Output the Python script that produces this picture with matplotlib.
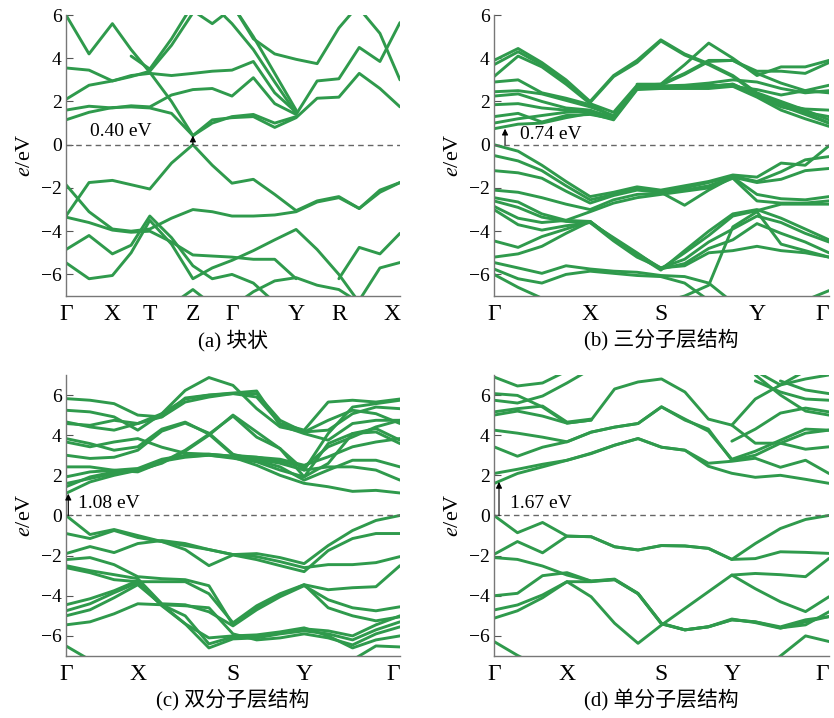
import numpy as np
import matplotlib.pyplot as plt
from matplotlib.transforms import ScaledTranslation

plt.rcParams['font.family'] = ['Liberation Serif', 'Noto Sans CJK SC']
plt.rcParams['mathtext.fontset'] = 'stix'

nan = np.nan
GREEN = '#2f9a4c'

# ---------------- (a) bulk ----------------
K_A = [0, .069, .139, .195, .251, .316, .380, .438, .497, .561, .625, .689, .752, .817, .878, .940, 1.0]
TICKS_A = [0, .138, .251, .380, .497, .689, .817, 1.0]
LABELS_A = ['Γ', 'X', 'T', 'Z', 'Γ', 'Y', 'R', 'X']
BANDS_A = [
    # conduction
    [1.15, 1.5, 1.72, 1.75, 1.7, 1.45, 0.42, 1.15, 1.25, 1.3, 0.8, 1.25, 2.15, 2.2, 3.3, 2.6, 1.75],
    [1.6, 1.78, 1.7, 1.8, 1.75, 2.3, 2.55, 2.6, 2.25, 3.1, 1.9, 1.4, 2.95, 3.05, 4.5, 3.85, 5.65],
    [2.1, 2.75, 2.95, 3.2, 3.3, 3.2, 3.3, 3.4, 3.45, 3.85, 2.4, 1.5, nan, nan, nan, nan, nan],
    [6.0, 4.2, 5.6, 4.4, 3.35, 2.0, 0.42, 1.0, 1.3, 1.4, 1.0, 1.3, nan, nan, nan, nan, nan],
    [3.55, 3.45, 2.95, 3.15, 3.4, 4.6, 6.1, nan, nan, nan, nan, nan, nan, nan, nan, nan, nan],
    [nan, nan, nan, 4.1, 3.5, 4.9, 6.5, nan, nan, nan, nan, nan, nan, nan, nan, nan, nan],
    [nan, nan, nan, nan, nan, nan, 6.2, 5.6, 6.3, nan, nan, nan, nan, nan, nan, nan, nan],
    [nan, nan, nan, nan, nan, nan, nan, nan, 6.5, 4.9, 4.2, 3.95, 3.75, 5.4, 6.5, nan, nan],
    [nan, nan, nan, nan, nan, nan, nan, 6.5, 5.6, 4.4, 2.9, 1.45, nan, nan, nan, nan, nan],
    [nan, nan, nan, nan, nan, nan, nan, nan, 6.5, 5.0, 3.3, 1.6, nan, nan, nan, nan, nan],
    [nan, nan, nan, nan, nan, nan, nan, nan, nan, nan, nan, nan, nan, nan, 6.3, 5.15, 3.0],
    # valence
    [-3.3, -1.75, -1.65, -1.85, -2.05, -0.85, 0.0, -0.95, -1.78, -1.6, -2.3, -3.05, -2.6, -2.4, -2.95, -2.1, -1.75],
    [-1.85, -3.1, -3.9, -4.0, -3.9, -3.4, -3.0, -3.1, -3.3, -3.3, -3.25, -3.1, -2.65, -2.45, -2.95, -2.2, -1.75],
    [-5.46, -6.2, -6.05, -5.0, -3.5, -4.6, -6.2, -5.7, -5.35, -4.9, -4.4, -3.92, -4.85, -6.0, -7.3, nan, nan],
    [-4.85, -4.2, -5.05, -4.65, -3.3, -4.3, -5.6, -6.2, -6.0, -6.4, -7.3, nan, nan, nan, nan, nan, nan],
    [-3.35, -3.6, -3.95, -4.05, -4.0, -4.5, -5.1, -5.15, -5.2, -5.3, -5.3, -6.2, nan, nan, nan, nan, nan],
    [nan, nan, nan, nan, nan, nan, nan, nan, -7.5, -6.8, -6.3, -6.15, -6.5, -6.7, -7.3, nan, nan],
    [nan, nan, nan, nan, nan, nan, nan, nan, nan, nan, nan, nan, nan, -6.2, -4.75, -5.05, -4.1],
    [nan, nan, nan, nan, nan, nan, nan, nan, nan, nan, nan, nan, nan, nan, -7.2, -5.7, -5.45],
    [nan, nan, nan, nan, nan, -7.4, -6.7, -7.4, nan, nan, nan, nan, nan, nan, nan, nan, nan],
]

# ---------------- (b) three layers ----------------
K_B = [0, .072, .143, .215, .287, .357, .427, .498, .569, .641, .713, .785, .857, .929, 1.0]
TICKS_B = [0, .287, .498, .785, 1.0]
LABELS_B = ['Γ', 'X', 'S', 'Y', 'Γ']
BANDS_B = [
    # conduction
    [3.9, 4.45, 3.8, 3.0, 2.0, 3.2, 3.9, 4.85, 4.2, 3.75, 3.2, 2.4, 2.0, 1.6, 1.15],
    [3.7, 4.3, 3.7, 2.9, 1.95, 3.15, 3.8, 4.8, 4.15, 3.7, 3.15, 2.35, 1.95, 1.5, 1.0],
    [3.15, 4.1, 3.6, 2.8, 1.9, 1.5, 2.75, 2.8, 3.7, 4.7, 4.0, 3.2, 3.6, 3.6, 3.9],
    [2.9, 3.0, 2.4, 2.15, 1.85, 1.3, 2.7, 2.75, 3.25, 3.85, 3.9, 3.4, 3.4, 3.3, 3.8],
    [2.45, 2.5, 2.35, 2.05, 1.75, 1.35, 2.7, 2.72, 2.75, 2.85, 3.0, 2.9, 2.6, 2.4, 2.5],
    [2.25, 2.35, 2.0, 1.7, 1.6, 1.2, 2.65, 2.7, 2.7, 2.75, 2.7, 2.55, 2.3, 2.5, 2.75],
    [1.85, 1.9, 1.7, 1.6, 1.5, 1.25, 2.6, 2.68, 2.7, 2.7, 2.8, 2.3, 1.85, 1.65, 1.6],
    [1.3, 1.45, 1.05, 1.35, 1.4, 1.2, 2.6, 2.65, 2.65, 2.65, 2.75, 2.25, 1.75, 1.5, 1.3],
    [0.74, 0.95, 1.0, 1.25, 1.45, 1.15, 2.55, 2.6, 2.6, 2.6, 2.7, 2.2, 1.6, 1.2, 0.85],
    [1.0, 1.2, 1.35, 1.5, 1.55, 1.3, 2.6, 2.62, 2.65, 2.7, 2.8, 2.3, 1.8, 1.4, 1.0],
    [nan, nan, nan, nan, nan, nan, 2.8, 2.8, 3.3, 3.9, 3.9, 3.3, 2.85, 2.5, 2.4],
    # valence
    [0.0, -0.3, -0.95, -1.7, -2.4, -2.2, -1.95, -2.1, -1.9, -1.7, -1.4, -1.5, -0.85, -0.95, -0.05],
    [-0.5, -0.75, -1.2, -1.9, -2.55, -2.3, -2.05, -2.2, -2.0, -1.75, -1.45, -1.7, -1.25, -0.7, -0.55],
    [-1.2, -1.3, -1.55, -2.15, -2.7, -2.35, -2.1, -2.2, -2.8, -2.1, -1.5, -1.75, -1.6, -1.2, -1.1],
    [-2.1, -2.2, -2.45, -2.75, -3.0, -2.55, -2.3, -2.25, -2.1, -1.9, -1.5, -2.3, -2.5, -2.55, -2.4],
    [-2.45, -2.65, -3.2, -3.5, -3.1, -2.7, -2.45, -2.3, -2.15, -2.0, -1.55, -2.6, -2.7, -2.7, -2.6],
    [-2.6, -2.9, -3.35, -3.55, -3.6, -4.3, -5.0, -5.75, -5.0, -4.2, -3.3, -3.05, -2.75, -2.75, -2.75],
    [-2.85, -3.4, -3.6, -3.5, -3.55, -4.4, -5.1, -5.8, -4.9, -4.0, -3.2, -3.0, -3.4, -3.9, -4.4],
    [-3.0, -3.7, -3.95, -3.75, -3.6, -4.45, -5.2, -5.7, -5.3, -4.5, -3.9, -3.3, -3.6, -4.1, -4.5],
    [-4.45, -4.75, -4.25, -3.9, -3.55, -4.35, -5.05, -5.75, -5.5, -4.8, -4.4, -3.65, -4.1, -4.5, -5.0],
    [-5.2, -5.05, -4.7, -4.1, -3.55, -4.4, -5.05, -5.7, -5.6, -5.0, -4.9, -4.7, -4.9, -5.0, -5.2],
    [-5.45, -5.7, -5.95, -5.6, -5.75, -5.85, -5.9, -6.05, -6.1, -6.4, -7.3, nan, nan, nan, nan],
    [-5.75, -6.2, -6.4, -6.0, -5.85, -5.95, -6.05, -6.1, -6.4, -7.2, nan, nan, nan, nan, nan],
    [-6.0, -6.6, -7.1, nan, nan, nan, nan, nan, nan, nan, nan, nan, nan, nan, nan],
    [nan, nan, nan, nan, nan, nan, nan, -7.3, -7.0, -6.5, -3.8, -3.1, -4.6, -4.9, -5.2],
    [nan, nan, nan, nan, nan, nan, nan, nan, nan, nan, nan, nan, nan, -7.2, -6.75],
]

# ---------------- (c) bilayer ----------------
K_C = [0, .072, .144, .215, .287, .357, .428, .5, .571, .641, .713, .785, .858, .928, 1.0]
TICKS_C = [0, .215, .5, .713, 1.0]
LABELS_C = ['Γ', 'X', 'S', 'Y', 'Γ']
BANDS_C = [
    # conduction
    [1.1, 1.67, 2.0, 2.25, 2.75, 2.95, 3.0, 2.9, 2.5, 2.0, 1.6, 1.43, 1.2, 1.25, 1.12],
    [1.43, 1.92, 2.17, 2.25, 2.6, 3.2, 4.0, 5.0, 4.16, 3.33, 2.26, 2.42, 2.42, 2.26, 1.76],
    [1.59, 1.84, 2.09, 2.25, 2.7, 2.9, 3.0, 2.85, 2.67, 2.26, 1.92, 3.58, 4.08, 4.33, 3.75],
    [1.92, 2.17, 2.25, 2.34, 2.8, 3.0, 3.05, 2.95, 2.8, 2.6, 2.26, 4.08, 5.4, 5.57, 5.74],
    [2.42, 2.42, 2.25, 2.17, 2.65, 3.25, 4.05, 4.95, 3.9, 3.33, 1.92, 2.59, 4.08, 4.16, 3.58],
    [3.0, 2.84, 2.9, 3.25, 4.2, 4.6, 4.1, 3.05, 2.75, 2.42, 1.76, 2.26, 2.75, 2.75, 2.42],
    [3.83, 3.58, 3.25, 3.42, 4.3, 4.65, 4.05, 3.0, 2.9, 2.7, 2.42, 3.42, 3.91, 4.41, 4.74],
    [3.66, 3.42, 3.66, 3.83, 3.4, 3.1, 3.05, 2.95, 2.9, 2.8, 2.5, 2.92, 3.42, 3.66, 3.83],
    [4.66, 4.41, 4.25, 4.58, 5.07, 5.8, 5.99, 6.07, 6.07, 4.74, 4.16, 4.74, 5.24, 5.07, 4.58],
    [4.58, 4.49, 4.74, 4.58, 4.91, 5.85, 6.0, 6.1, 6.2, 4.49, 4.08, 3.75, 4.58, 4.74, 4.74],
    [5.24, 5.16, 4.91, 4.25, 5.07, 6.23, 6.87, 6.48, 5.32, 4.41, 4.16, 4.25, 5.07, 5.4, 5.32],
    [5.82, 5.74, 5.57, 5.0, 4.91, 5.65, 5.9, 6.07, 5.9, 4.58, 4.25, 5.65, 5.74, 5.65, 5.8],
    # valence
    [0.0, -0.95, -0.7, -1.0, -1.3, -1.5, -1.7, -1.95, -1.9, -2.1, -2.4, -1.5, -0.75, -0.25, 0.0],
    [-0.9, -1.15, -0.75, -1.1, -1.3, -1.7, -2.5, -1.97, -2.2, -2.5, -2.8, -1.75, -1.15, -0.9, -0.9],
    [-1.9, -1.55, -1.85, -1.4, -1.25, -1.4, -1.7, -1.95, -2.05, -2.3, -2.6, -2.45, -2.45, -2.35, -2.05],
    [-2.2, -2.1, -2.45, -3.05, -3.15, -3.2, -3.5, -5.45, -4.6, -4.0, -3.45, -3.7, -3.6, -3.55, -2.5],
    [-2.5, -2.75, -2.95, -3.15, -4.4, -4.45, -4.8, -5.5, -4.7, -4.05, -3.5, -4.2, -4.6, -4.75, -4.55],
    [-2.6, -2.85, -3.2, -3.3, -3.3, -3.3, -3.9, -5.35, -4.5, -3.9, -3.45, -4.6, -5.0, -5.25, -5.05],
    [-4.45, -4.15, -3.75, -3.25, -4.45, -5.0, -6.4, -6.05, -6.0, -5.85, -5.65, -5.75, -6.0, -5.45, -5.0],
    [-4.75, -4.4, -3.85, -3.35, -4.5, -5.4, -6.6, -6.15, -6.1, -5.9, -5.75, -5.9, -6.2, -5.7, -5.3],
    [-5.0, -4.7, -4.1, -3.45, -4.45, -4.5, -4.6, -5.9, -6.2, -6.1, -5.9, -6.1, -6.45, -5.9, -5.55],
    [-5.45, -5.3, -4.9, -4.4, -4.45, -5.4, -6.1, -6.0, -5.95, -5.8, -5.6, -6.0, -6.6, -6.2, -6.0],
    [-6.5, -7.2, nan, nan, nan, nan, nan, nan, nan, nan, nan, nan, -7.2, -6.5, -6.55],
]

# ---------------- (d) monolayer ----------------
K_D = [0, .07, .145, .218, .29, .36, .43, .5, .57, .64, .71, .78, .855, .93, 1.0]
TICKS_D = [0, .218, .5, .71, 1.0]
LABELS_D = ['Γ', 'X', 'S', 'Y', 'Γ']
BANDS_D = [
    # conduction
    [1.59, 2.09, 2.42, 2.75, 3.08, 3.5, 3.83, 3.4, 3.25, 2.45, 2.1, 1.9, 2.0, 1.8, 1.6],
    [2.09, 2.3, 2.55, 2.75, 3.1, 3.5, 3.83, 3.4, 3.25, 2.6, 2.7, 2.85, 2.4, 2.75, 2.09],
    [3.42, 2.95, 3.4, 3.67, 4.15, 4.4, 4.58, 5.41, 4.8, 4.2, 2.8, 3.2, 3.75, 4.3, 4.25],
    [4.25, 4.1, 3.9, 3.67, 4.15, 4.4, 4.58, 5.41, 4.75, 4.3, 2.75, 3.0, 3.6, 3.3, 3.42],
    [5.0, 5.2, 4.95, 4.6, 4.75, nan, nan, nan, nan, nan, nan, nan, nan, nan, nan],
    [5.16, 5.32, 5.45, 4.65, 4.8, nan, nan, nan, nan, nan, nan, nan, nan, nan, nan],
    [6.07, 5.98, 5.4, 4.6, 4.75, 6.3, 6.65, 6.8, 6.15, 4.8, 4.5, 3.6, 3.6, 4.1, 4.25],
    [5.74, 5.6, 5.95, 6.6, 7.3, nan, nan, nan, nan, nan, nan, nan, nan, nan, nan],
    [6.9, 6.45, 6.6, 7.2, nan, nan, nan, nan, nan, nan, nan, nan, nan, nan, nan],
    [nan, nan, nan, nan, nan, nan, nan, nan, nan, nan, 4.5, 5.8, 6.5, 7.2, nan],
    [nan, nan, nan, nan, nan, nan, nan, nan, nan, nan, 3.7, 4.3, 5.1, 5.35, 5.16],
    [nan, nan, nan, nan, nan, nan, nan, nan, nan, nan, nan, 6.7, 6.15, 5.8, 5.74],
    [nan, nan, nan, nan, nan, nan, nan, nan, nan, nan, nan, nan, 6.7, 6.25, 6.07],
    [nan, nan, nan, nan, nan, nan, nan, nan, nan, nan, nan, 7.2, 6.5, 6.8, 7.0],
    [nan, nan, nan, nan, nan, nan, nan, nan, nan, nan, nan, 7.0, 6.0, 5.2, 5.0],
    # valence
    [0.0, -0.86, -0.35, -1.03, -1.06, -1.56, -1.72, -1.5, -1.52, -1.64, -2.19, -1.4, -0.65, -0.2, 0.0],
    [-1.94, -1.3, -1.86, -1.03, -1.06, -1.56, -1.72, -1.5, -1.52, -1.64, -2.19, -2.15, -1.81, -1.84, -1.89],
    [-2.1, -2.19, -2.52, -2.97, -3.27, -3.17, -3.88, -5.37, -5.7, -5.54, -5.16, -5.34, -5.62, -5.3, -5.04],
    [-4.0, -3.88, -3.0, -2.85, -3.27, -3.2, -3.9, -5.4, -5.7, -5.55, -5.2, -5.3, -5.6, -5.45, -4.8],
    [-4.71, -4.46, -3.96, -3.3, -4.05, -5.37, -6.37, -5.46, -4.63, -3.8, -2.97, -2.89, -2.95, -3.05, -2.14],
    [-5.12, -4.75, -4.1, -3.3, -3.3, -3.2, -3.9, -5.4, -5.7, -5.55, -5.2, -5.3, -5.55, -5.2, -5.04],
    [nan, nan, nan, nan, nan, nan, nan, nan, nan, nan, -2.97, -3.65, -4.3, -4.79, -4.05],
    [-6.28, -6.97, -7.6, nan, nan, nan, nan, nan, nan, nan, nan, nan, nan, nan, nan],
    [nan, nan, nan, nan, nan, nan, nan, nan, nan, nan, nan, -8.0, -7.0, -6.0, -6.28],
]

PANELS = [
    # k grid, bands, ticks, labels, ylim, gap, arrow x, text pos, gap text, caption
    (K_A, BANDS_A, TICKS_A, LABELS_A, (-7, 6), 0.42, 0.380, (0.072, 0.6), '0.40 eV', '(a) 块状'),
    (K_B, BANDS_B, TICKS_B, LABELS_B, (-7, 6), 0.74, 0.033, (0.078, 0.46), '0.74 eV', '(b) 三分子层结构'),
    (K_C, BANDS_C, TICKS_C, LABELS_C, (-7, 7), 1.08, 0.007, (0.036, 0.62), '1.08 eV', '(c) 双分子层结构'),
    (K_D, BANDS_D, TICKS_D, LABELS_D, (-7, 7), 1.67, 0.015, (0.048, 0.62), '1.67 eV', '(d) 单分子层结构'),
]
RECTS = [
    [0.0791, 0.5877, 0.4005, 0.3914],
    [0.5923, 0.5877, 0.4017, 0.3914],
    [0.0791, 0.0864, 0.4005, 0.3914],
    [0.5923, 0.0864, 0.4017, 0.3914],
]

fig = plt.figure(figsize=(8.34, 7.18), dpi=100)

for rect, (k, bands, ticks, labels, ylim, gap, ax_x, txt_pos, txt, caption) in zip(RECTS, PANELS):
    ax = fig.add_axes(rect)
    for band in bands:
        ax.plot(k, band, color=GREEN, lw=2.1, solid_capstyle='round', solid_joinstyle='round')
    ax.axhline(0, color='#666666', lw=1.0, ls=(0, (4, 3)), zorder=3)
    ax.annotate('', xy=(ax_x, gap), xytext=(ax_x, 0),
                arrowprops=dict(arrowstyle='-|>', color='black', lw=0.8,
                                mutation_scale=9, shrinkA=0, shrinkB=0), zorder=4)
    ax.text(txt_pos[0], txt_pos[1], txt, fontsize=14, va='center', ha='left', zorder=4)

    ax.set_xlim(0, 1)
    ax.set_ylim(*ylim)
    ax.set_yticks([-6, -4, -2, 0, 2, 4, 6])
    ax.set_xticks(ticks)
    ax.set_xticklabels(labels, fontsize=17)
    # keep the last Γ inside the figure
    last = ax.get_xticklabels()[-1]
    last.set_horizontalalignment('right')
    last.set_transform(last.get_transform() + ScaledTranslation(5 / 72, 0, fig.dpi_scale_trans))
    ax.tick_params(axis='y', direction='in', length=5, width=0.8, color='#555555',
                   labelsize=14, pad=3)
    ax.tick_params(axis='x', length=0, pad=6)
    for side in ['top', 'right']:
        ax.spines[side].set_visible(False)
    for side in ['left', 'bottom']:
        ax.spines[side].set_color('#777777')
        ax.spines[side].set_linewidth(1.0)
    ax.set_ylabel('$e$/eV', fontsize=16, labelpad=4)
    ax.text(0.5, -0.157, caption, transform=ax.transAxes, ha='center', va='center',
            fontsize=15)

fig.savefig('out.png', dpi=100)
